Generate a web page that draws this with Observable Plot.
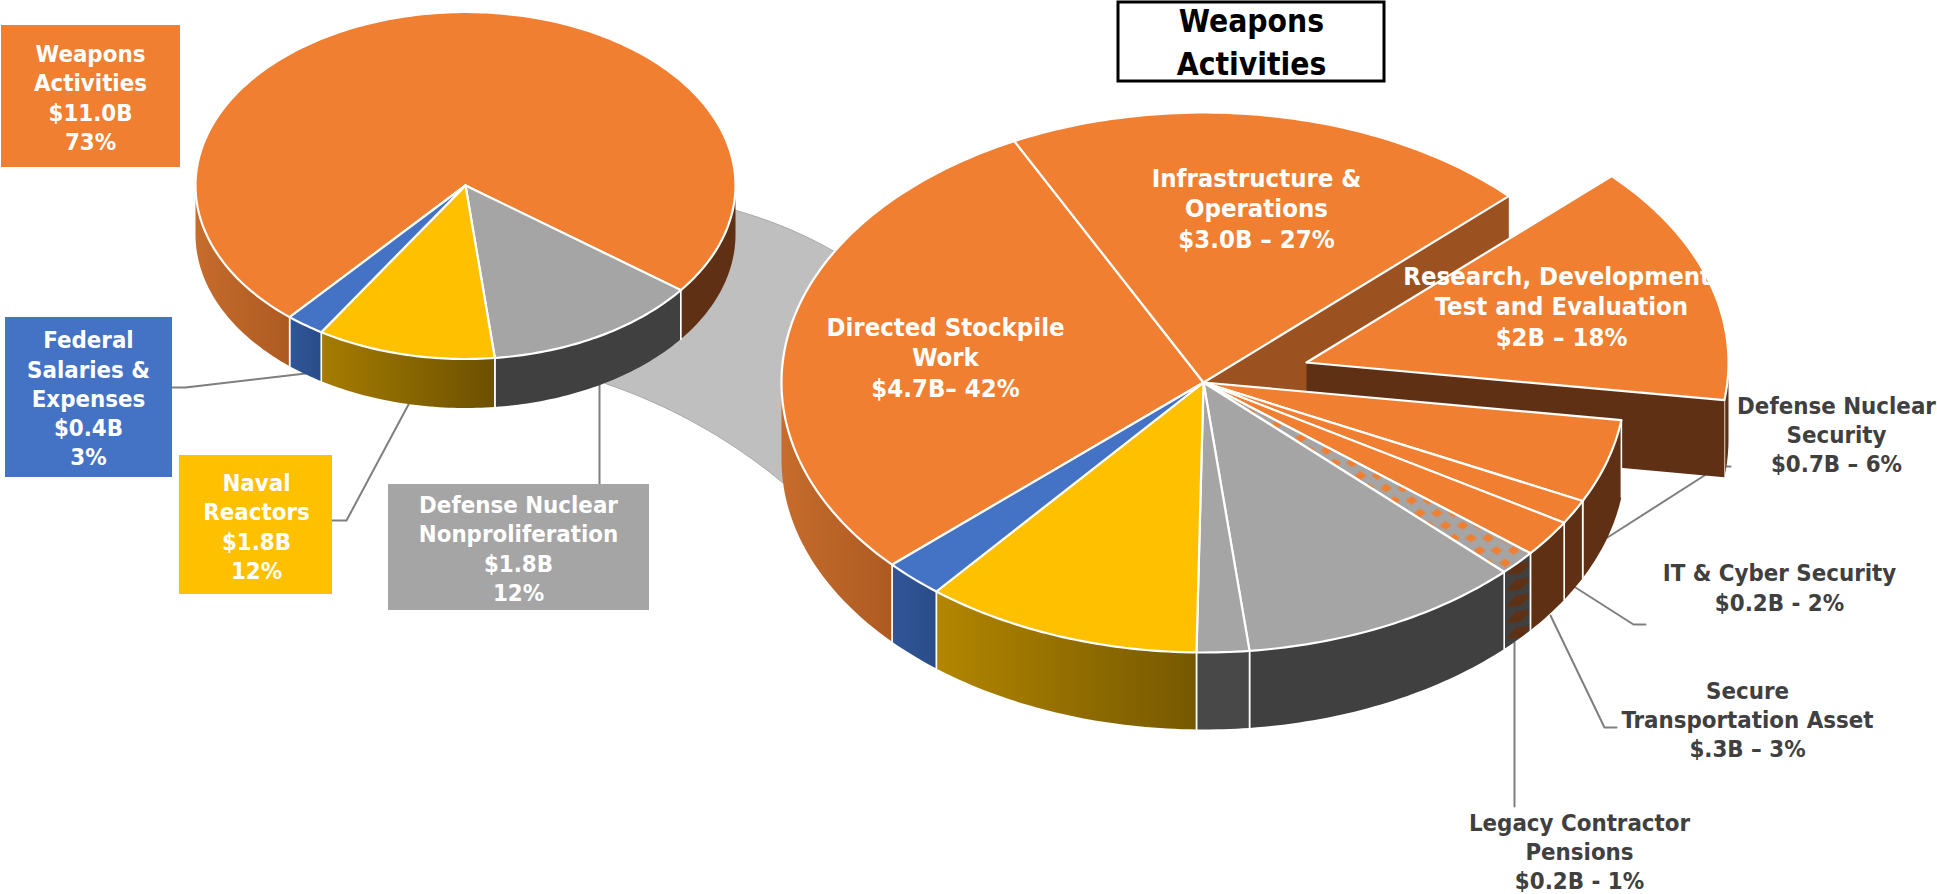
<!DOCTYPE html>
<html>
<head>
<meta charset="utf-8">
<script src="https://cdn.jsdelivr.net/npm/d3@7"></script>
<script src="https://cdn.jsdelivr.net/npm/@observablehq/plot@0.6"></script>
<style>
  html, body { margin: 0; padding: 0; background: #fff; overflow: hidden; }
  svg { display: block; }
</style>
</head>
<body>
<div id="chart"></div>
<script>
// NNSA budget by program, in $ billions
const programNames = ["Defense Nuclear Nonproliferation", "Naval Reactors", "Federal Salaries & Expenses", "Weapons Activities"];
const programValues = [1.8, 1.8, 0.4, 11.0];

// Weapons Activities broken out, followed by the other programs
const detailNames = ["Defense Nuclear Security", "IT & Cyber Security", "Secure Transportation Asset", "Legacy Contractor Pensions",
  "Nonproliferation (main)", "Nonproliferation (other)", "Naval Reactors", "Federal Salaries & Expenses",
  "Directed Stockpile Work", "Infrastructure & Operations", "Research, Development, Test and Evaluation"];
const detailValues = [0.7, 0.2, 0.3, 0.2, 1.5, 0.3, 1.8, 0.4, 4.7, 3.0, 2.0];

const programLabels = ["Weapons\nActivities\n$11.0B\n73%", "Federal\nSalaries &\nExpenses\n$0.4B\n3%", "Naval\nReactors\n$1.8B\n12%", "Defense Nuclear\nNonproliferation\n$1.8B\n12%"];
const detailLabels = ["Directed Stockpile\nWork\n$4.7B– 42%", "Infrastructure &\nOperations\n$3.0B – 27%", "Research, Development,\nTest and Evaluation\n$2B – 18%"];
const calloutLabels = ["Defense Nuclear\nSecurity\n$0.7B – 6%", "IT & Cyber Security\n$0.2B - 2%", "Secure\nTransportation Asset\n$.3B – 3%", "Legacy Contractor\nPensions\n$0.2B - 1%"];

// Scene layout: the two tilted discs
const smallPie = {cx: 465, cy: 185, rx: 270, ry: 173.5, depth: 49, spin: -7.5};
const bigPie = {cx: 1203, cy: 382, rx: 422, ry: 270, depth: 77, spin: 0};
const explode = {dx: 103, dy: -20};
const startAngle = 8;        // where the detail pie's first slice begins
const smallStart = 41.4;     // where the program pie's first slice begins

const ORANGE = "#f07f31", BLUE = "#4472c4", GOLD = "#ffc000", GRAY = "#a5a5a5", BROWN = "#5f3013", WALL = "#9c5120";

const rad = d => d * Math.PI / 180;
// Tilted-view correction between a slice's angle on the disc and on screen
const view = (a, spin = 0) => a + 5.5 * Math.sin(rad(a)) + 1.3 * Math.sin(rad(2 * a)) - 1.5 * Math.sin(rad(3 * a)) - 0.5 + spin;
const rim = (p, t, z = 0, o = {dx: 0, dy: 0}) => ({
  x: p.cx + o.dx + p.rx * Math.cos(rad(t)),
  y: p.cy + o.dy + p.ry * Math.sin(rad(t)) + z
});
const arc = (p, a, b, z, o) => d3.range(0, 1.0001, 1 / Math.max(2, Math.ceil(Math.abs(b - a)))).map(s => rim(p, a + (b - a) * s, z, o));

function spans(values, start, spin) {
  const unit = 360 / d3.sum(values);
  let acc = start;
  return values.map(v => {
    const a = acc; acc += v * unit;
    return [view(a, spin), view(acc, spin)];
  });
}

const poly = (pts, fill, opts = {}) => Plot.line([...pts, pts[0]], {
  x: "x", y: "y", fill, stroke: opts.stroke ?? "none", strokeWidth: opts.width ?? 2, strokeLinejoin: "round", curve: "linear"
});
const wedge = (p, [a, b], fill, o = {dx: 0, dy: 0}) =>
  poly([{x: p.cx + o.dx, y: p.cy + o.dy}, ...arc(p, a, b, 0, o)], fill, {stroke: "#fff", width: 2.2});

// Front-facing part of a slice's outer wall
function side(p, [a, b], fill, o) {
  const marks = [];
  for (const k of [0, 360]) {
    const lo = Math.max(a, k), hi = Math.min(b, k + 180);
    if (hi > lo) {
      marks.push(poly([...arc(p, lo, hi, 0, o), ...arc(p, hi, lo, p.depth, o)], fill));
      for (const edge of [lo, hi]) {
        if (edge !== k && edge !== k + 180) {
          marks.push(Plot.line([rim(p, edge, 0, o), rim(p, edge, p.depth, o)], {x: "x", y: "y", stroke: "#fff", strokeWidth: 1.6}));
        }
      }
    }
  }
  return marks;
}

// Band tying the program pie to the detail pie
const smallSpans = spans(programValues, smallStart, smallPie.spin);
const bigSpans = spans(detailValues, startAngle, bigPie.spin);
const bow = (A, B, bend) => {
  const C = {x: (A.x + B.x) / 2 + bend.x, y: (A.y + B.y) / 2 + bend.y};
  return d3.range(0, 1.001, 0.05).map(s => ({
    x: (1 - s) ** 2 * A.x + 2 * s * (1 - s) * C.x + s ** 2 * B.x,
    y: (1 - s) ** 2 * A.y + 2 * s * (1 - s) * C.y + s ** 2 * B.y
  }));
};
const band = [
  ...bow(rim(smallPie, 8), rim(bigPie, 209), {x: 4, y: -6}),
  ...bow(rim(bigPie, 175, bigPie.depth), rim(smallPie, 59, smallPie.depth), {x: 10, y: -16})
];

// Fills for the small-pie and big-pie walls
const smallSideFill = ["#404040", "url(#goldSmall)", "url(#blueWall)"];
const bigWall = ["url(#hatchWall)"];

const marks = [
  poly(band, "#bfbfbf", {stroke: "#a9a9a9", width: 1}),

  // Leader lines
  ...[
    [[172, 387], [185, 387], [305, 373]],
    [[332, 520], [346, 520], [408, 404]],
    [[599, 484], [599, 385]],
    [[1730, 466], [1718, 466], [1607, 537]],
    [[1575, 587], [1633, 624], [1645, 624]],
    [[1550, 615], [1604, 727], [1616, 727]],
    [[1514, 642], [1514, 806]]
  ].map(path => Plot.line(path, {x: d => d[0], y: d => d[1], stroke: "#7f7f7f", strokeWidth: 2, curve: "linear"})),

  // Program pie
  ...side(smallPie, smallSpans[0], smallSideFill[0]),
  ...side(smallPie, smallSpans[1], smallSideFill[1]),
  ...side(smallPie, smallSpans[2], smallSideFill[2]),
  ...side(smallPie, [smallSpans[3][0], 360], "url(#orangeWall)"),
  ...side(smallPie, [360, smallSpans[3][1]], BROWN),
  wedge(smallPie, smallSpans[3], ORANGE),
  wedge(smallPie, smallSpans[0], GRAY),
  wedge(smallPie, smallSpans[1], GOLD),
  wedge(smallPie, smallSpans[2], BLUE),

  // Cut wall behind the pulled-out slice
  poly([{x: bigPie.cx, y: bigPie.cy}, rim(bigPie, bigSpans[9][1]), rim(bigPie, bigSpans[9][1], bigPie.depth), {x: bigPie.cx, y: bigPie.cy + bigPie.depth}], WALL),

  // Pulled-out slice
  ...side(bigPie, [360, bigSpans[10][1]], BROWN, explode),
  poly([
    {x: bigPie.cx + explode.dx, y: bigPie.cy + explode.dy},
    rim(bigPie, bigSpans[10][1], 0, explode),
    rim(bigPie, bigSpans[10][1], bigPie.depth, explode),
    {x: bigPie.cx + explode.dx, y: bigPie.cy + explode.dy + bigPie.depth}
  ], BROWN),
  wedge(bigPie, bigSpans[10], ORANGE, explode),

  // Detail pie
  ...side(bigPie, bigSpans[0], BROWN),
  ...side(bigPie, bigSpans[1], BROWN),
  ...side(bigPie, bigSpans[2], BROWN),
  ...side(bigPie, bigSpans[3], bigWall[0]),
  ...side(bigPie, bigSpans[4], "#404040"),
  ...side(bigPie, bigSpans[5], "#484848"),
  ...side(bigPie, bigSpans[6], "url(#goldBig)"),
  ...side(bigPie, bigSpans[7], "url(#blueWall)"),
  ...side(bigPie, bigSpans[8], "url(#orangeWall)"),
  wedge(bigPie, bigSpans[8], ORANGE),
  wedge(bigPie, bigSpans[9], ORANGE),
  wedge(bigPie, bigSpans[0], ORANGE),
  wedge(bigPie, bigSpans[1], ORANGE),
  wedge(bigPie, bigSpans[2], ORANGE),
  wedge(bigPie, bigSpans[3], "url(#hatchTop)"),
  wedge(bigPie, bigSpans[4], GRAY),
  wedge(bigPie, bigSpans[5], GRAY),
  wedge(bigPie, bigSpans[6], GOLD),
  wedge(bigPie, bigSpans[7], BLUE),

  // Program label boxes
  Plot.rect([
    {x1: 1, x2: 180, y1: 25, y2: 167, c: ORANGE},
    {x1: 5, x2: 172, y1: 317, y2: 477, c: BLUE},
    {x1: 179, x2: 332, y1: 455, y2: 594, c: GOLD},
    {x1: 388, x2: 649, y1: 484, y2: 610, c: GRAY}
  ], {x1: "x1", x2: "x2", y1: "y1", y2: "y2", fill: d => d.c}),
  Plot.text(programLabels, {
    x: (d, i) => [90, 88, 256, 518][i], y: (d, i) => [96, 397, 525, 547][i],
    text: d => d, fill: "#fff", fontSize: 23.8, fontWeight: 700, lineHeight: 1.23, lineAnchor: "middle", textAnchor: "middle"
  }),

  // Slice labels on the detail pie
  Plot.text(detailLabels, {
    x: (d, i) => [945, 1256, 1561][i], y: (d, i) => [356, 207, 305][i],
    text: d => d, fill: "#fff", fontSize: 25.5, fontWeight: 700, lineHeight: 1.19, lineAnchor: "middle", textAnchor: "middle"
  }),
  Plot.text(calloutLabels, {
    x: (d, i) => [1836, 1779, 1747, 1579][i], y: (d, i) => [433, 586, 718, 850][i],
    text: d => d, fill: "#404040", fontSize: 23.8, fontWeight: 700, lineHeight: 1.23, lineAnchor: "middle", textAnchor: "middle"
  }),

  // Title box
  Plot.rect([{x1: 1118, x2: 1384, y1: 2, y2: 81}], {x1: "x1", x2: "x2", y1: "y1", y2: "y2", fill: "#fff", stroke: "#000", strokeWidth: 3}),
  Plot.text(["Weapons\nActivities"], {x: () => 1251, y: () => 39, text: d => d, fill: "#000", fontSize: 31.5, fontWeight: 700, lineHeight: 1.37, lineAnchor: "middle", textAnchor: "middle"})
];

const chart = Plot.plot({
  width: 1937, height: 894, margin: 0,
  style: {fontFamily: "'DejaVu Sans Condensed', 'DejaVu Sans', sans-serif", background: "#fff", overflow: "hidden"},
  x: {type: "linear", domain: [0, 1937], range: [0, 1937], axis: null},
  y: {type: "linear", domain: [0, 894], range: [0, 894], axis: null},
  marks
});

// Wall shading and the hatched slice fill
const defs = d3.select(chart).insert("defs", ":first-child");
const shade = (id, from, to) => {
  const g = defs.append("linearGradient").attr("id", id).attr("x1", 0).attr("x2", 1).attr("y1", 0).attr("y2", 0);
  g.append("stop").attr("offset", 0).attr("stop-color", from);
  g.append("stop").attr("offset", 1).attr("stop-color", to);
};
shade("orangeWall", "#c66c2c", "#ad5a22");
shade("blueWall", "#305597", "#2b4c88");
shade("goldBig", "#b38600", "#755800");
shade("goldSmall", "#a67c00", "#6b5000");

const hatchTop = defs.append("pattern").attr("id", "hatchTop").attr("patternUnits", "userSpaceOnUse").attr("width", 17).attr("height", 25);
hatchTop.append("rect").attr("width", 17).attr("height", 25).attr("fill", GRAY);
for (const [x, y] of [[0, 0], [17, 0], [0, 25], [17, 25], [8.5, 12.5]]) {
  hatchTop.append("polygon").attr("fill", ORANGE).attr("points", `${x - 6},${y} ${x},${y - 4.5} ${x + 6},${y} ${x},${y + 4.5}`);
}
const hatchWall = defs.append("pattern").attr("id", "hatchWall").attr("patternUnits", "userSpaceOnUse").attr("x", 1503).attr("width", 34).attr("height", 16);
hatchWall.append("rect").attr("width", 34).attr("height", 16).attr("fill", "#404040");
hatchWall.append("polygon").attr("fill", BROWN).attr("points", "3,14 12,3 28,1 18,13");

document.getElementById("chart").append(chart);
</script>
</body>
</html>
